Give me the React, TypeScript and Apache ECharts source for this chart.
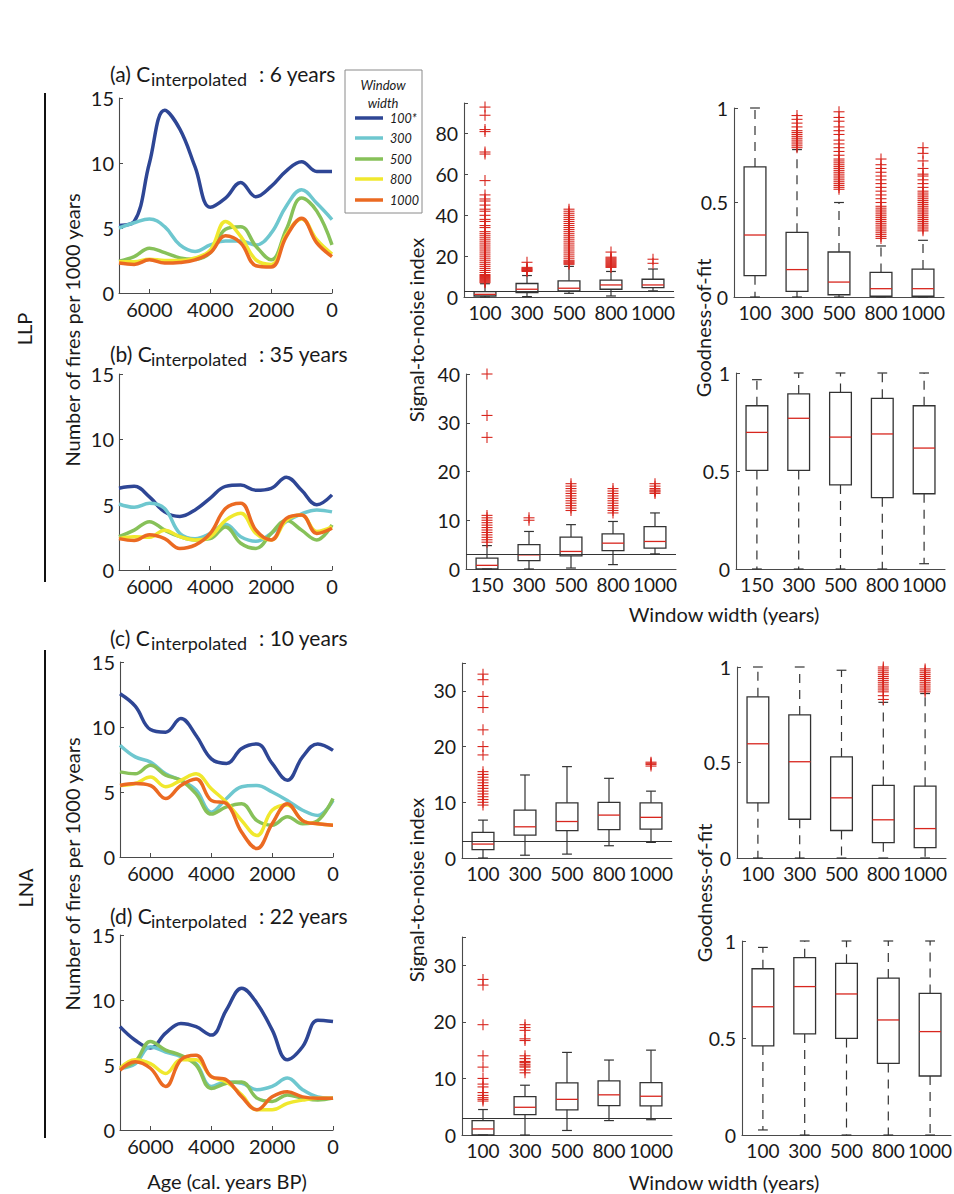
import React, { useEffect, useRef } from "react";
import * as echarts from "echarts";

const FONT = "Lato, 'Open Sans', sans-serif";

// ---------- line panels data ----------
const AGES = [7000, 6500, 6000, 5500, 5000, 4500, 4000, 3500, 3000, 2500, 2000, 1500, 1000, 500, 0];
const WINDOW_LABELS = ["100*", "300", "500", "800", "1000"];
const LINE_COLORS = ["#2e4695", "#6ec7cf", "#87c159", "#f0e82e", "#eb6a22"];

// (a) LLP, C_interpolated 6 years
const A_W100 = [5.2, 5.5, 10.0, 14.05, 12.6, 9.7, 6.6, 7.3, 8.5, 7.4, 8.2, 9.4, 10.1, 9.35, 9.35];
const A_W300 = [5.0, 5.4, 5.7, 5.1, 3.7, 3.2, 3.7, 4.0, 4.0, 3.7, 4.6, 6.7, 7.95, 6.9, 5.65];
const A_W500 = [2.45, 2.8, 3.45, 3.1, 2.7, 2.6, 3.1, 4.9, 5.1, 3.6, 2.55, 4.9, 7.3, 6.3, 3.7];
const A_W800 = [2.4, 2.4, 2.6, 2.5, 2.5, 2.7, 3.3, 5.5, 4.35, 2.55, 2.2, 4.5, 5.7, 4.1, 3.0];
const A_W1000 = [2.3, 2.2, 2.55, 2.3, 2.35, 2.55, 3.1, 4.4, 3.85, 2.1, 2.0, 4.35, 5.75, 3.85, 2.8];

// (b) LLP, C_interpolated 35 years
const B_W100 = [6.25, 6.4, 5.6, 4.45, 4.1, 4.6, 5.5, 6.4, 6.5, 6.1, 6.25, 7.1, 6.1, 5.0, 5.75];
const B_W300 = [5.05, 4.8, 5.1, 4.7, 2.8, 2.4, 2.8, 3.5, 2.55, 2.2, 2.8, 3.7, 4.3, 4.6, 4.45];
const B_W500 = [2.55, 3.05, 3.7, 3.05, 2.55, 2.3, 2.4, 3.3, 2.05, 1.65, 2.8, 3.8, 3.05, 2.3, 3.45];
const B_W800 = [2.4, 2.55, 2.5, 3.05, 2.55, 2.3, 2.55, 3.8, 4.35, 2.8, 2.3, 3.8, 4.2, 2.95, 3.3];
const B_W1000 = [2.4, 2.25, 2.7, 2.4, 1.65, 1.9, 2.8, 4.7, 5.1, 3.05, 2.3, 3.95, 4.2, 2.8, 3.2];

// (c) LNA, C_interpolated 10 years
const C_W100 = [12.55, 11.6, 9.8, 9.6, 10.65, 9.35, 7.55, 7.2, 8.35, 8.7, 7.2, 5.9, 7.7, 8.7, 8.2];
const C_W300 = [8.6, 7.7, 7.3, 6.4, 5.9, 5.15, 3.45, 4.5, 5.4, 5.5, 5.0, 4.35, 3.6, 3.2, 4.35];
const C_W500 = [6.55, 6.4, 7.05, 6.3, 5.9, 4.85, 3.3, 3.85, 4.1, 2.8, 2.45, 3.1, 2.55, 2.8, 4.5];
const C_W800 = [5.5, 5.65, 6.15, 5.4, 5.9, 6.4, 5.25, 4.2, 2.8, 1.65, 3.6, 4.0, 2.8, 2.55, 2.45];
const C_W1000 = [5.5, 5.65, 5.5, 4.5, 5.5, 6.0, 4.35, 4.1, 1.9, 0.65, 2.55, 4.1, 2.8, 2.55, 2.45];

// (d) LNA, C_interpolated 22 years
const D_W100 = [7.95, 6.9, 6.3, 7.45, 8.2, 7.95, 7.3, 9.25, 10.9, 9.75, 7.7, 5.4, 6.4, 8.45, 8.35];
const D_W300 = [4.75, 5.1, 6.4, 6.0, 5.65, 5.1, 3.35, 3.7, 3.6, 3.1, 3.35, 4.0, 3.1, 2.55, 2.45];
const D_W500 = [4.75, 5.25, 6.8, 6.15, 5.75, 5.0, 3.2, 3.6, 3.7, 2.45, 2.2, 2.7, 2.45, 2.3, 2.45];
const D_W800 = [4.75, 5.4, 5.1, 4.35, 5.4, 5.4, 4.1, 3.7, 2.7, 1.55, 1.55, 2.05, 2.3, 2.45, 2.45];
const D_W1000 = [4.6, 5.25, 4.75, 3.35, 5.4, 5.75, 4.1, 3.85, 2.55, 1.55, 2.55, 2.95, 2.55, 2.45, 2.45];

// ---------- box plot data: [lowerWhisker, Q1, median, Q3, upperWhisker] ----------
const CATS_100 = ["100", "300", "500", "800", "1000"];
const CATS_150 = ["150", "300", "500", "800", "1000"];
const SNI_THRESHOLD = 3;

const SNI_A_BOX = [
  [0, 0.5, 1.3, 2.6, 6.5],
  [0.2, 2.1, 3.8, 6.6, 10.5],
  [1.8, 3.0, 4.3, 7.9, 15],
  [0.5, 3.8, 5.9, 8.3, 12.5],
  [3.0, 4.6, 5.9, 8.7, 13.7],
];
const SNI_A_OUT = [
  [7, 7.5, 8, 8.5, 9, 9.5, 10, 10.5, 11, 12, 13, 14, 15, 16, 17, 18, 19, 20, 21, 22, 23, 24, 25, 26, 27, 28, 29, 30, 31, 32, 34, 35, 37, 38, 40, 42, 43, 45, 47, 48, 50, 57, 70, 71, 81, 82, 89, 93],
  [12.5, 13, 13.3, 13.6, 14, 14.5, 17],
  [16, 16.5, 17, 17.5, 18, 19, 20, 21, 22, 23, 24, 25, 26, 27, 28, 29, 30, 31, 32, 33, 34, 35, 36, 37, 38, 39, 40, 41, 42, 43],
  [14.5, 15, 15.5, 16, 16.5, 17, 17.5, 18, 18.5, 19, 19.5, 22],
  [16.5, 18.5],
];
const GOF_A_BOX = [
  [0, 0.113, 0.328, 0.688, 1.0],
  [0, 0.03, 0.145, 0.342, 0.78],
  [0, 0.012, 0.079, 0.238, 0.5],
  [0, 0.004, 0.044, 0.13, 0.27],
  [0, 0.004, 0.044, 0.148, 0.3],
];
const GOF_A_OUT = [
  [],
  [0.79, 0.8, 0.81, 0.82, 0.83, 0.84, 0.85, 0.86, 0.87, 0.88, 0.9, 0.92, 0.94, 0.96],
  [0.57, 0.58, 0.59, 0.6, 0.61, 0.62, 0.63, 0.64, 0.65, 0.66, 0.67, 0.68, 0.69, 0.7, 0.71, 0.72, 0.73, 0.75, 0.77, 0.79, 0.81, 0.83, 0.86, 0.88, 0.9, 0.93, 0.95, 0.98],
  [0.31, 0.32, 0.33, 0.34, 0.35, 0.36, 0.37, 0.38, 0.39, 0.4, 0.41, 0.42, 0.43, 0.44, 0.45, 0.46, 0.47, 0.48, 0.5, 0.52, 0.54, 0.56, 0.58, 0.6, 0.62, 0.64, 0.66, 0.68, 0.7, 0.73],
  [0.35, 0.36, 0.37, 0.38, 0.39, 0.4, 0.41, 0.42, 0.43, 0.44, 0.45, 0.46, 0.47, 0.48, 0.49, 0.5, 0.51, 0.52, 0.53, 0.54, 0.55, 0.56, 0.58, 0.6, 0.62, 0.64, 0.65, 0.68, 0.72, 0.76, 0.79],
];

const SNI_B_BOX = [
  [0, 0, 0.75, 2.25, 4.8],
  [0, 1.7, 2.9, 5.0, 7.7],
  [0.2, 2.7, 3.6, 6.55, 9.1],
  [0.9, 3.75, 5.3, 7.2, 9.75],
  [3.1, 4.3, 5.65, 8.7, 11.5],
];
const SNI_B_OUT = [
  [5.5, 6, 6.5, 7, 7.5, 8, 8.5, 9, 9.5, 10, 10.5, 11, 27, 31.5, 40],
  [10, 10.5],
  [12, 12.5, 13, 13.5, 14, 14.5, 15, 15.5, 16, 16.5, 17, 17.5],
  [11.5, 12, 12.5, 13, 13.5, 14, 14.5, 15, 15.5, 16, 16.5],
  [15.5, 15.8, 16, 16.2, 16.5, 17, 17.5],
];
const GOF_B_BOX = [
  [0, 0.503, 0.697, 0.833, 0.966],
  [0, 0.503, 0.769, 0.893, 1.0],
  [0, 0.429, 0.673, 0.901, 1.0],
  [0, 0.364, 0.689, 0.871, 1.0],
  [0.027, 0.384, 0.617, 0.833, 1.0],
];
const GOF_B_OUT = [[], [], [], [], []];

const SNI_C_BOX = [
  [0, 1.5, 2.5, 4.6, 6.8],
  [0.5, 4.1, 5.6, 8.6, 14.9],
  [0.7, 4.9, 6.55, 9.9, 16.4],
  [2.2, 5.1, 7.7, 10.0, 14.3],
  [2.8, 5.2, 7.3, 9.9, 12.0],
];
const SNI_C_OUT = [
  [9.5, 10, 10.5, 11, 11.5, 12, 12.5, 13, 13.5, 14, 14.5, 15, 15.5, 18.5, 20, 23, 27, 29, 32, 33],
  [],
  [],
  [],
  [16.5, 16.8, 17, 17.2],
];
const GOF_C_BOX = [
  [0, 0.289, 0.598, 0.844, 1.0],
  [0, 0.203, 0.504, 0.749, 1.0],
  [0, 0.144, 0.315, 0.529, 0.983],
  [0, 0.08, 0.2, 0.38, 0.815],
  [0, 0.054, 0.154, 0.376, 0.861],
];
const GOF_C_OUT = [
  [],
  [],
  [],
  [0.83, 0.85, 0.87, 0.88, 0.89, 0.9, 0.91, 0.92, 0.93, 0.94, 0.95, 0.96, 0.97, 0.98, 0.99, 1.0],
  [0.87, 0.88, 0.89, 0.9, 0.91, 0.92, 0.93, 0.94, 0.95, 0.96, 0.97, 0.98, 0.99],
];

const SNI_D_BOX = [
  [0, 0, 1.07, 2.55, 4.5],
  [0, 3.6, 4.9, 6.8, 8.8],
  [0.8, 4.45, 6.3, 9.2, 14.6],
  [2.55, 5.2, 7.1, 9.55, 13.25],
  [2.7, 5.15, 6.85, 9.25, 15.0],
];
const SNI_D_OUT = [
  [6, 6.3, 6.6, 7, 7.5, 8.5, 9, 10, 12, 14, 19.5, 26.5, 27.5],
  [11, 11.5, 12, 12.2, 12.5, 12.8, 13, 13.5, 14, 16.7, 17, 18.5, 19, 19.5],
  [],
  [],
  [],
];
const GOF_D_BOX = [
  [0.026, 0.459, 0.661, 0.857, 0.967],
  [0, 0.521, 0.765, 0.914, 1.0],
  [0, 0.498, 0.727, 0.885, 1.0],
  [0, 0.369, 0.593, 0.809, 1.0],
  [0, 0.304, 0.533, 0.73, 1.0],
];
const GOF_D_OUT = [[], [], [], [], []];

const TITLES = [
  { tag: "(a) C", rest: ": 6 years" },
  { tag: "(b) C", rest: ": 35 years" },
  { tag: "(c) C", rest: ": 10 years" },
  { tag: "(d) C", rest: ": 22 years" },
];

// ---------- layout ----------
const LINE_GRIDS = [
  { left: 119, top: 98, width: 213, height: 195 },
  { left: 119, top: 374, width: 213, height: 196 },
  { left: 120, top: 662, width: 213, height: 195 },
  { left: 120, top: 935, width: 213, height: 195 },
];
const TITLE_Y = [73, 353, 637, 915];
const SNI_GRIDS = [
  { left: 464, top: 103, width: 210, height: 194 },
  { left: 466, top: 374, width: 210, height: 195 },
  { left: 462, top: 663, width: 210, height: 195 },
  { left: 462, top: 937, width: 210, height: 198 },
];
const GOF_GRIDS = [
  { left: 734, top: 108, width: 210, height: 189 },
  { left: 736, top: 373, width: 209, height: 196 },
  { left: 737, top: 667, width: 209, height: 191 },
  { left: 742, top: 941, width: 209, height: 194 },
];

const AX = "#4a4a4a";
const TXT = "#1a1a1a";
const RED = "#d8261e";

function boxRenderer(dashed: boolean) {
  return (params: any, api: any) => {
    const i = api.value(0);
    const pLo = api.coord([i, api.value(1)]);
    const pQ1 = api.coord([i, api.value(2)]);
    const pMed = api.coord([i, api.value(3)]);
    const pQ3 = api.coord([i, api.value(4)]);
    const pHi = api.coord([i, api.value(5)]);
    const band = api.size([1, 0])[0];
    const bw = band * 0.52;
    const cw = bw * 0.45;
    const x = pMed[0];
    const solid = { stroke: "#333", lineWidth: 1.2, fill: "none" };
    const wh = { stroke: "#333", lineWidth: 1.2, lineDash: dashed ? [9, 7] : undefined };
    return {
      type: "group",
      children: [
        { type: "line", shape: { x1: x, y1: pQ3[1], x2: x, y2: pHi[1] }, style: wh },
        { type: "line", shape: { x1: x, y1: pQ1[1], x2: x, y2: pLo[1] }, style: wh },
        { type: "line", shape: { x1: x - cw / 2, y1: pHi[1], x2: x + cw / 2, y2: pHi[1] }, style: solid },
        { type: "line", shape: { x1: x - cw / 2, y1: pLo[1], x2: x + cw / 2, y2: pLo[1] }, style: solid },
        { type: "rect", shape: { x: x - bw / 2, y: pQ3[1], width: bw, height: pQ1[1] - pQ3[1] }, style: { stroke: "#333", lineWidth: 1.3, fill: "rgba(255,255,255,0)" } },
        { type: "line", shape: { x1: x - bw / 2, y1: pMed[1], x2: x + bw / 2, y2: pMed[1] }, style: { stroke: RED, lineWidth: 1.3 } },
      ],
    };
  };
}

function plusRenderer(params: any, api: any) {
  const p = api.coord([api.value(0), api.value(1)]);
  const s = 5.5;
  const st = { stroke: RED, lineWidth: 1.1 };
  return {
    type: "group",
    children: [
      { type: "line", shape: { x1: p[0] - s, y1: p[1], x2: p[0] + s, y2: p[1] }, style: st },
      { type: "line", shape: { x1: p[0], y1: p[1] - s, x2: p[0], y2: p[1] + s }, style: st },
    ],
  };
}

function buildOption() {
  const grids: any[] = [];
  const xAxes: any[] = [];
  const yAxes: any[] = [];
  const series: any[] = [];
  const graphic: any[] = [];

  const axisLine = { show: true, onZero: false, lineStyle: { color: AX, width: 1.1 } };
  const axisTickIn = { show: true, inside: true, length: 4, lineStyle: { color: AX } };

  const lineSets = [
    [A_W100, A_W300, A_W500, A_W800, A_W1000],
    [B_W100, B_W300, B_W500, B_W800, B_W1000],
    [C_W100, C_W300, C_W500, C_W800, C_W1000],
    [D_W100, D_W300, D_W500, D_W800, D_W1000],
  ];

  lineSets.forEach((set, gi) => {
    grids.push({ ...LINE_GRIDS[gi], containLabel: false, outerBoundsMode: "none" });
    xAxes.push({
      type: "value", gridIndex: gi, min: 0, max: 7000, interval: 2000, inverse: true,
      axisLine, axisTick: axisTickIn, splitLine: { show: false },
      axisLabel: { color: TXT, fontFamily: FONT, fontSize: 20, margin: 6, formatter: (v: number) => (v % 2000 === 0 ? String(v) : "") },
    });
    yAxes.push({
      type: "value", gridIndex: gi, min: 0, max: 15, interval: 5,
      axisLine, axisTick: axisTickIn, splitLine: { show: false },
      axisLabel: { color: TXT, fontFamily: FONT, fontSize: 20, margin: 5 },
    });
    set.forEach((vals, k) => {
      series.push({
        type: "line", xAxisIndex: gi, yAxisIndex: gi, name: WINDOW_LABELS[k],
        data: AGES.map((a, i) => [a, vals[i]]),
        smooth: 0.4, symbol: "none", silent: true,
        lineStyle: { color: LINE_COLORS[k], width: 3.5 },
        itemStyle: { color: LINE_COLORS[k] },
      });
    });
  });

  const boxPanels = [
    { g: SNI_GRIDS[0], cats: CATS_100, box: SNI_A_BOX, out: SNI_A_OUT, max: 95, step: 20, gof: false },
    { g: SNI_GRIDS[1], cats: CATS_150, box: SNI_B_BOX, out: SNI_B_OUT, max: 40, step: 10, gof: false },
    { g: SNI_GRIDS[2], cats: CATS_100, box: SNI_C_BOX, out: SNI_C_OUT, max: 35, step: 10, gof: false },
    { g: SNI_GRIDS[3], cats: CATS_100, box: SNI_D_BOX, out: SNI_D_OUT, max: 35, step: 10, gof: false },
    { g: GOF_GRIDS[0], cats: CATS_100, box: GOF_A_BOX, out: GOF_A_OUT, max: 1, step: 0.5, gof: true },
    { g: GOF_GRIDS[1], cats: CATS_150, box: GOF_B_BOX, out: GOF_B_OUT, max: 1, step: 0.5, gof: true },
    { g: GOF_GRIDS[2], cats: CATS_100, box: GOF_C_BOX, out: GOF_C_OUT, max: 1, step: 0.5, gof: true },
    { g: GOF_GRIDS[3], cats: CATS_100, box: GOF_D_BOX, out: GOF_D_OUT, max: 1, step: 0.5, gof: true },
  ];

  boxPanels.forEach((p) => {
    const gi = grids.length;
    grids.push({ ...p.g, containLabel: false, outerBoundsMode: "none" });
    xAxes.push({
      type: "category", gridIndex: gi, data: p.cats, boundaryGap: true,
      axisLine, axisTick: { show: false }, splitLine: { show: false },
      axisLabel: { color: TXT, fontFamily: FONT, fontSize: 19, margin: 6, interval: 0 },
    });
    yAxes.push({
      type: "value", gridIndex: gi, min: 0, max: p.max, interval: p.step,
      axisLine, axisTick: axisTickIn, splitLine: { show: false },
      axisLabel: {
        color: TXT, fontFamily: FONT, fontSize: 19.5, margin: 6,
        formatter: (v: number) => (Math.abs(v / p.step - Math.round(v / p.step)) < 1e-6 ? String(v) : ""),
      },
    });
    const boxSeries: any = {
      type: "custom", xAxisIndex: gi, yAxisIndex: gi, silent: true,
      renderItem: boxRenderer(p.gof),
      encode: { x: 0, y: [1, 2, 3, 4, 5] },
      data: p.box.map((b, i) => [i, ...b]),
      z: 3,
    };
    if (!p.gof) {
      boxSeries.markLine = {
        silent: true, symbol: ["none", "none"], label: { show: false },
        lineStyle: { color: "#333", type: "solid", width: 1.1 },
        data: [{ yAxis: SNI_THRESHOLD }],
      };
    }
    series.push(boxSeries);
    series.push({
      type: "custom", xAxisIndex: gi, yAxisIndex: gi, silent: true,
      renderItem: plusRenderer,
      encode: { x: 0, y: 1 },
      data: p.out.flatMap((vals, i) => vals.map((v) => [i, v])),
      z: 4,
    });
  });

  // ---- titles ----
  TITLES.forEach((t, i) => {
    const y = TITLE_Y[i];
    graphic.push({ type: "text", x: 110, y, style: { text: t.tag, fontSize: 21, fontFamily: FONT, fill: TXT, align: "left", verticalAlign: "middle" } });
    graphic.push({ type: "text", x: 151, y: y + 6, style: { text: "interpolated", fontSize: 18, fontFamily: FONT, fill: TXT, align: "left", verticalAlign: "middle" } });
    graphic.push({ type: "text", x: 259, y, style: { text: t.rest, fontSize: 21, fontFamily: FONT, fill: TXT, align: "left", verticalAlign: "middle" } });
  });

  // ---- legend ----
  graphic.push({ type: "rect", shape: { x: 345, y: 70, width: 77, height: 143 }, style: { fill: "#fff", stroke: "#8a8a8a", lineWidth: 1 }, z: 10 });
  graphic.push({ type: "text", x: 383, y: 85, z: 11, style: { text: "Window", fontSize: 13, fontStyle: "italic", fontFamily: FONT, fill: TXT, align: "center", verticalAlign: "middle" } });
  graphic.push({ type: "text", x: 383, y: 103, z: 11, style: { text: "width", fontSize: 13, fontStyle: "italic", fontFamily: FONT, fill: TXT, align: "center", verticalAlign: "middle" } });
  const legY = [118, 138, 159, 179, 200];
  WINDOW_LABELS.forEach((lab, k) => {
    graphic.push({ type: "line", z: 11, shape: { x1: 355, y1: legY[k], x2: 383, y2: legY[k] }, style: { stroke: LINE_COLORS[k], lineWidth: 3.5 } });
    graphic.push({ type: "text", z: 11, x: 390, y: legY[k], style: { text: lab, fontSize: 12.5, fontStyle: "italic", fontFamily: FONT, fill: TXT, align: "left", verticalAlign: "middle" } });
  });

  // ---- group brackets and labels ----
  graphic.push({ type: "line", shape: { x1: 45, y1: 93, x2: 45, y2: 582 }, style: { stroke: "#111", lineWidth: 2 } });
  graphic.push({ type: "line", shape: { x1: 45, y1: 650, x2: 45, y2: 1138 }, style: { stroke: "#111", lineWidth: 2 } });
  const vtext = (text: string, x: number, y: number, size = 20) => ({
    type: "text", x, y, rotation: Math.PI / 2,
    style: { text, fontSize: size, fontFamily: FONT, fill: TXT, align: "center", verticalAlign: "middle" },
  });
  graphic.push(vtext("LLP", 24, 329));
  graphic.push(vtext("LNA", 25, 888));
  graphic.push(vtext("Number of fires per 1000 years", 72, 330));
  graphic.push(vtext("Number of fires per 1000 years", 72, 874));
  graphic.push(vtext("Signal-to-noise index", 416, 330));
  graphic.push(vtext("Signal-to-noise index", 416, 890));
  graphic.push(vtext("Goodness-of-fit", 703, 328));
  graphic.push(vtext("Goodness-of-fit", 704, 893));
  const htext = (text: string, x: number, y: number) => ({
    type: "text", x, y,
    style: { text, fontSize: 20, fontFamily: FONT, fill: TXT, align: "center", verticalAlign: "middle" },
  });
  graphic.push(htext("Window width (years)", 724, 614));
  graphic.push(htext("Window width (years)", 724, 1182));
  graphic.push(htext("Age (cal. years BP)", 227, 1181));

  return {
    animation: false,
    backgroundColor: "#fff",
    grid: grids,
    xAxis: xAxes,
    yAxis: yAxes,
    series,
    graphic: { elements: graphic },
  };
}

export default function App() {
  const ref = useRef<HTMLDivElement>(null);
  useEffect(() => {
    const chart = echarts.init(ref.current!, null, { renderer: "svg" });
    chart.setOption(buildOption() as any);
    return () => chart.dispose();
  }, []);
  return (
    <div
      ref={ref}
      style={{ position: "absolute", left: 0, top: 0, width: 954, height: 1194, background: "#fff" }}
    />
  );
}
